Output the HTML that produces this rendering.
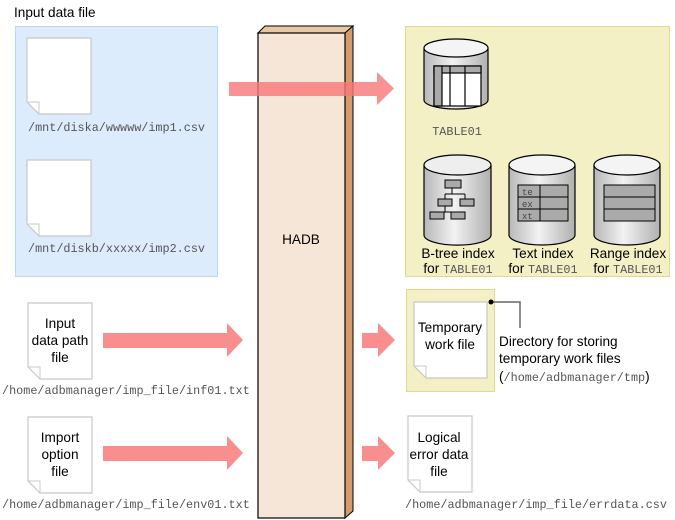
<!DOCTYPE html>
<html><head><meta charset="utf-8"><style>
html,body{margin:0;padding:0;background:#fff}
svg{display:block}
.s{font-family:"Liberation Sans",sans-serif;font-size:13.6px;fill:#000}
.m{font-family:"Liberation Mono",monospace;font-size:11.8px;fill:#555}
</style></head><body>
<svg width="675" height="520" viewBox="0 0 675 520">
<defs>
<linearGradient id="cy" x1="0" x2="1"><stop offset="0" stop-color="#b8b8b8"/><stop offset="0.45" stop-color="#f2f2f2"/><stop offset="1" stop-color="#b0b0b0"/></linearGradient>
<g id="doc"><path d="M0,0H64V76H12L0,64Z" fill="#fff" stroke="#c8c8c8" stroke-width="1.2"/><path d="M0,64H12V76" fill="none" stroke="#c8c8c8"/></g>
</defs>
<text class="s" x="14" y="17">Input data file</text>
<rect x="15.5" y="26.5" width="202" height="250" fill="#dcecfc" stroke="#b8d8f4"/>
<use href="#doc" x="27" y="38"/>
<text class="m" x="28" y="131">/mnt/diska/wwwww/imp1.csv</text>
<use href="#doc" x="27" y="160"/>
<text class="m" x="28" y="252">/mnt/diskb/xxxxx/imp2.csv</text>

<rect x="405.5" y="26.5" width="264" height="250" fill="#f2f0c4" stroke="#dcdc90"/>
<g stroke="#000" stroke-width="1.2">
<path d="M424,48V100A32,9 0 0 0 488,100V48" fill="url(#cy)"/><ellipse cx="456" cy="48" rx="32" ry="9" fill="#f4f4f4"/>
<rect x="434" y="66" width="47" height="40" fill="#fff"/>
<rect x="434" y="66" width="47" height="7" fill="#aaa"/>
<rect x="434" y="66" width="8" height="40" fill="#aaa"/>
<line x1="450" y1="66" x2="450" y2="106"/><line x1="465" y1="66" x2="465" y2="106"/>
<path d="M424,165V235A33,10 0 0 0 491,235V165" fill="url(#cy)"/><ellipse cx="457.5" cy="165" rx="33.5" ry="10" fill="#eee"/>
<path d="M509,165V235A33,10 0 0 0 575,235V165" fill="url(#cy)"/><ellipse cx="542" cy="165" rx="33" ry="10" fill="#f4f4f4"/>
<path d="M594,165V235A33,10 0 0 0 660,235V165" fill="url(#cy)"/><ellipse cx="627" cy="165" rx="33" ry="10" fill="#f4f4f4"/>
</g>
<g stroke="#000" fill="#aaa" stroke-width="1">
<path d="M452,188V194M445,194H465M445,194V199M465,194V199M445,206V212M438,212H452" fill="none"/>
<rect x="445" y="180" width="16" height="8"/><rect x="438" y="199" width="14" height="7"/><rect x="460" y="199" width="14" height="7"/>
<rect x="430" y="212" width="14" height="7"/><rect x="451" y="212" width="14" height="7"/>
<rect x="518" y="185" width="50" height="36"/>
<line x1="518" y1="197" x2="568" y2="197"/><line x1="518" y1="209" x2="568" y2="209"/><line x1="540" y1="185" x2="540" y2="221"/>
<rect x="604" y="185" width="51" height="36"/>
<line x1="604" y1="197" x2="655" y2="197"/><line x1="604" y1="209" x2="655" y2="209"/>
</g>
<text class="m" x="522" y="195" style="font-size:9px;fill:#444">te</text>
<text class="m" x="522" y="207" style="font-size:9px;fill:#444">ex</text>
<text class="m" x="522" y="219" style="font-size:9px;fill:#444">xt</text>
<text class="m" x="457" y="135" text-anchor="middle">TABLE01</text>
<text class="s" x="458" y="258" text-anchor="middle">B-tree index</text>
<text x="458" y="273" text-anchor="middle"><tspan class="s">for </tspan><tspan class="m">TABLE01</tspan></text>
<text class="s" x="543" y="258" text-anchor="middle">Text index</text>
<text x="543" y="273" text-anchor="middle"><tspan class="s">for </tspan><tspan class="m">TABLE01</tspan></text>
<text class="s" x="628" y="258" text-anchor="middle">Range index</text>
<text x="628" y="273" text-anchor="middle"><tspan class="s">for </tspan><tspan class="m">TABLE01</tspan></text>

<path d="M258,33L265,26H353L345,33Z" fill="#e8c8a4" stroke="#000"/>
<path d="M345,33L353,26V511L345,518Z" fill="#d49c6c" stroke="#000"/>
<rect x="258" y="33" width="87" height="485" fill="#f6e6d8" stroke="#000" stroke-width="1.2"/>
<text class="s" x="301" y="244" text-anchor="middle">HADB</text>

<g fill="#f77878" fill-opacity="0.8">
<path d="M229,82H377V72L394,88.5L377,105V96H229Z"/>
</g>
<g fill="#f88e8e">
<path d="M103,333H227V323L243,340L227,357V348H103Z"/>
<path d="M103,446H227V436L243,453L227,470V461H103Z"/>
<path d="M362,333H378V323L395,340L378,357V348H362Z"/>
<path d="M362,446H378V436L395,453L378,470V461H362Z"/>
</g>

<use href="#doc" x="28" y="303"/>
<text class="s" x="60" y="328" text-anchor="middle">Input</text>
<text class="s" x="60" y="345" text-anchor="middle">data path</text>
<text class="s" x="60" y="362" text-anchor="middle">file</text>
<text class="m" x="2" y="394">/home/adbmanager/imp_file/inf01.txt</text>
<use href="#doc" x="28" y="417"/>
<text class="s" x="60" y="442" text-anchor="middle">Import</text>
<text class="s" x="60" y="459" text-anchor="middle">option</text>
<text class="s" x="60" y="476" text-anchor="middle">file</text>
<text class="m" x="2" y="508">/home/adbmanager/imp_file/env01.txt</text>

<rect x="406.5" y="289.5" width="88" height="102" fill="#f2f0c4" stroke="#dcdc90"/>
<path d="M414,302H487V378H426L414,366Z" fill="#fff" stroke="#c8c8c8" stroke-width="1.2"/>
<path d="M414,366H426V378" fill="none" stroke="#c8c8c8"/>
<text class="s" x="450" y="332" text-anchor="middle">Temporary</text>
<text class="s" x="450" y="349" text-anchor="middle">work file</text>
<path d="M491,302H520V328" fill="none" stroke="#666" stroke-width="1.5"/>
<circle cx="491" cy="302" r="2.5" fill="#000"/>
<text class="s" x="499" y="346">Directory for storing</text>
<text class="s" x="499" y="363">temporary work files</text>
<text x="499" y="381"><tspan class="s">(</tspan><tspan class="m">/home/adbmanager/tmp</tspan><tspan class="s">)</tspan></text>

<use href="#doc" x="408" y="416"/>
<text class="s" x="439" y="442" text-anchor="middle">Logical</text>
<text class="s" x="439" y="459" text-anchor="middle">error data</text>
<text class="s" x="439" y="476" text-anchor="middle">file</text>
<text class="m" x="405" y="508">/home/adbmanager/imp_file/errdata.csv</text>
</svg>
</body></html>
